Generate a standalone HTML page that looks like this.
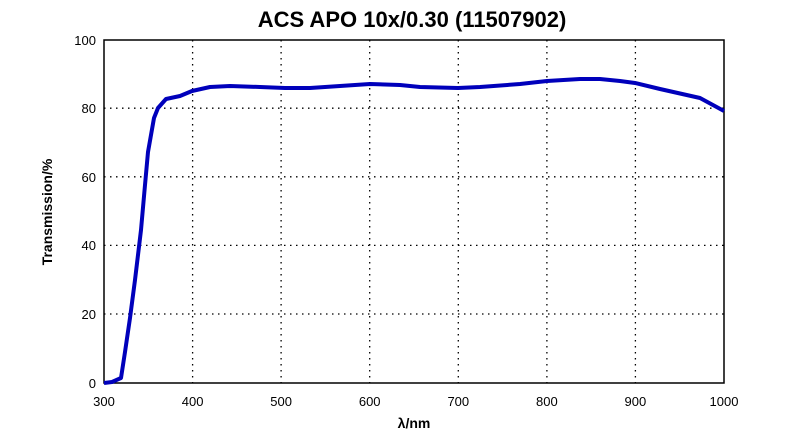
<!DOCTYPE html>
<html><head><style>
body{margin:0;background:#fff;}
svg{display:block;font-family:"Liberation Sans",Arial,sans-serif;}
</style></head><body>
<svg width="800" height="438" viewBox="0 0 800 438">
<rect width="800" height="438" fill="#fff"/>
<text x="412" y="27" text-anchor="middle" font-size="22" font-weight="bold">ACS APO 10x/0.30 (11507902)</text>
<g stroke="#000" stroke-width="1.3" stroke-dasharray="1.5,4.5">
<line x1="104" y1="314" x2="724" y2="314"/>
<line x1="104" y1="245.4" x2="724" y2="245.4"/>
<line x1="104" y1="176.8" x2="724" y2="176.8"/>
<line x1="104" y1="108.2" x2="724" y2="108.2"/>
<line x1="192.6" y1="40" x2="192.6" y2="383"/>
<line x1="281.1" y1="40" x2="281.1" y2="383"/>
<line x1="369.7" y1="40" x2="369.7" y2="383"/>
<line x1="458.3" y1="40" x2="458.3" y2="383"/>
<line x1="546.9" y1="40" x2="546.9" y2="383"/>
<line x1="635.4" y1="40" x2="635.4" y2="383"/>
</g>
<rect x="104" y="40" width="620" height="343" fill="none" stroke="#000" stroke-width="1.5"/>
<polyline fill="none" stroke="#0000bb" stroke-width="4" stroke-linejoin="round" points="104,383 112,382 121,378 125,352 130,318 135,280 141,230 145,185 148,152 154,118 158,108 166,99 180,96 192,91 210,87 230,86 260,87 285,88 310,88 340,86 370,84 400,85 420,87 458,88 480,87 520,84 547,81 580,79 600,79 620,81 635,83 660,89 700,98 724,111"/>
<g font-size="13" text-anchor="end">
<text x="96" y="388">0</text><text x="96" y="319">20</text><text x="96" y="250">40</text><text x="96" y="182">60</text><text x="96" y="113">80</text><text x="96" y="45">100</text>
</g>
<g font-size="13" text-anchor="middle">
<text x="104" y="406">300</text><text x="192.6" y="406">400</text><text x="281.1" y="406">500</text><text x="369.7" y="406">600</text><text x="458.3" y="406">700</text><text x="546.9" y="406">800</text><text x="635.4" y="406">900</text><text x="724" y="406">1000</text>
</g>
<text x="414" y="428" text-anchor="middle" font-size="14" font-weight="bold">λ/nm</text>
<text transform="translate(52,212) rotate(-90)" text-anchor="middle" font-size="14" font-weight="bold">Transmission/%</text>
</svg>
</body></html>
